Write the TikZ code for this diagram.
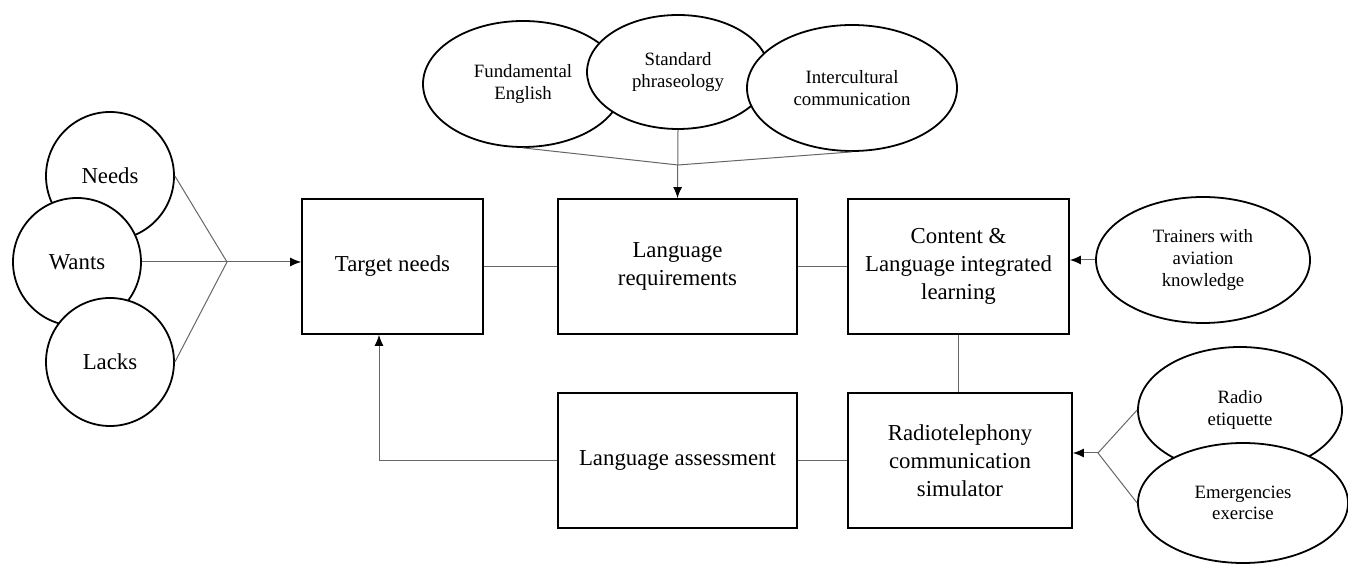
\documentclass[tikz,border=0pt]{standalone}
\usepackage{fontspec}
\setmainfont{LiberationSerif}[Extension=.ttf,UprightFont=*-Regular,BoldFont=*-Bold,ItalicFont=*-Italic,BoldItalicFont=*-BoldItalic]
\usetikzlibrary{shapes.geometric,arrows.meta}
\tikzset{
  box/.style={draw,line width=0.9pt,fill=white,inner sep=0pt,align=center,font=\rmfamily\fontsize{11.4}{14}\selectfont},
  round/.style={draw,circle,line width=0.9pt,fill=white,inner sep=0pt,minimum size=64pt,font=\rmfamily\fontsize{11.4}{14}\selectfont},
  oval/.style={draw,ellipse,line width=0.9pt,fill=white,inner sep=0pt,align=center,font=\rmfamily\fontsize{9.4}{10.8}\selectfont},
  link/.style={draw=black!60,line width=0.5pt}
}
\begin{document}
\begin{tikzpicture}[x=0.5pt,y=-0.5pt,>={Latex[length=5.5pt,width=4.5pt,black]}]
\useasboundingbox (0,0) rectangle (1348,565);
\node[round] (needs) at (110,176) {Needs};
\node[round] (wants) at (77,262) {Wants};
\node[round] (lacks) at (110,362) {Lacks};
\node[oval,minimum width=100pt,minimum height=63pt] (fund) at (523,84) {Fundamental\\English};
\node[oval,minimum width=91pt,minimum height=57pt] (std) at (678,72) {Standard\\phraseology};
\node[oval,minimum width=105pt,minimum height=63pt] (inter) at (852,88) {Intercultural\\communication};
\node[box,minimum width=90.5pt,minimum height=67.5pt] (target) at (392.5,266.5) {Target needs};
\node[box,minimum width=119.5pt,minimum height=67.5pt] (lreq) at (677.5,266.5) {Language\\requirements};
\node[box,minimum width=110.5pt,minimum height=67.5pt] (clil) at (958.5,266.5) {Content \&\\Language integrated\\learning};
\node[box,minimum width=119.5pt,minimum height=67.5pt] (assess) at (677.5,460.5) {Language assessment};
\node[box,minimum width=112pt,minimum height=67.5pt] (rtsim) at (960,460.5) {Radiotelephony\\communication\\simulator};
\node[oval,minimum width=107pt,minimum height=63pt] (trainers) at (1203,260) {Trainers with\\aviation\\knowledge};
\node[oval,minimum width=102pt,minimum height=63pt] (radio) at (1240,410) {Radio\\etiquette};
\node[oval,minimum width=105pt,minimum height=60pt] (emerg) at (1243,503) {Emergencies\\exercise};
\coordinate (jl) at (227,262);
\coordinate (jt) at (678,165);
\coordinate (jr) at (1098,453);
\coordinate (fb) at (379,460.5);
\foreach \c in {needs,wants,lacks}
\draw[link] (\c.east) -- (jl);
\draw[link,->] (jl) -- (target.west |- jl);
\draw[link] (fund.south) -- (jt) -- (inter.south);
\draw[link,->] (std.south) -- (lreq.north);
\draw[link] (target.east) -- (target.east -| lreq.west);
\draw[link] (lreq.east) -- (lreq.east -| clil.west);
\draw[link,->] (trainers.west) -- (trainers.west -| clil.east);
\draw[link] (clil.south) -- (clil.south |- rtsim.north);
\draw[link] (radio.west) -- (jr) -- (emerg.west);
\draw[link,->] (jr) -- (jr -| rtsim.east);
\draw[link] (rtsim.west) -- (assess.east);
\draw[link,->] (assess.west) -- (fb) -- (fb |- target.south);
\end{tikzpicture}
\end{document}
